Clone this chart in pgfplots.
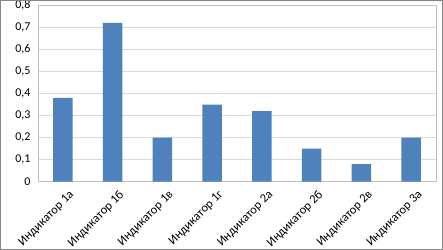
\documentclass[border=0pt]{standalone}
\usepackage{pgfplots}
\pgfplotsset{compat=1.18}
\usepackage{fontspec}
\setmainfont{Carlito}
\definecolor{barblue}{HTML}{4F81BD}
\definecolor{gridgray}{HTML}{D9D9D9}
\definecolor{axgray}{HTML}{BFBFBF}
\definecolor{bordergray}{HTML}{868686}
\begin{document}
\begin{tikzpicture}
\begin{axis}[
  scale only axis,
  width=398bp, height=176.4bp,
  xmin=-0.5, xmax=7.5, ymin=0, ymax=0.8,
  ytick={0,0.1,0.2,0.3,0.4,0.5,0.6,0.7,0.8},
  yticklabel style={/pgf/number format/use comma, /pgf/number format/fixed, /pgf/number format/precision=1, /pgf/number format/assume math mode=true, font=\fontsize{12}{14}\selectfont, xshift=-4bp},
  xtick={0,1,2,3,4,5,6,7},
  xticklabels={Индикатор 1а,Индикатор 1б,Индикатор 1в,Индикатор 1г,Индикатор 2а,Индикатор 2б,Индикатор 2в,Индикатор 3а},
  xticklabel style={font=\fontsize{12.5}{14}\selectfont, rotate=45, anchor=north east, xshift=2bp, yshift=-6bp},
  major tick length=0pt,
  ymajorgrids, grid style={gridgray, line width=0.8bp},
  axis line style={axgray, line width=0.8bp},
  ybar, bar width=19.5bp,
  clip=false,
]
\addplot[fill=barblue, draw=none] coordinates {
 (0,0.38) (1,0.72) (2,0.20) (3,0.35) (4,0.32) (5,0.15) (6,0.08) (7,0.20)};
\end{axis}
\draw[bordergray, line width=1bp] (-37.5bp,-67.8bp) rectangle (404.5bp,181.2bp);
\pgfresetboundingbox
\useasboundingbox (-38bp,-68.3bp) rectangle (405bp,181.7bp);
\end{tikzpicture}
\end{document}
